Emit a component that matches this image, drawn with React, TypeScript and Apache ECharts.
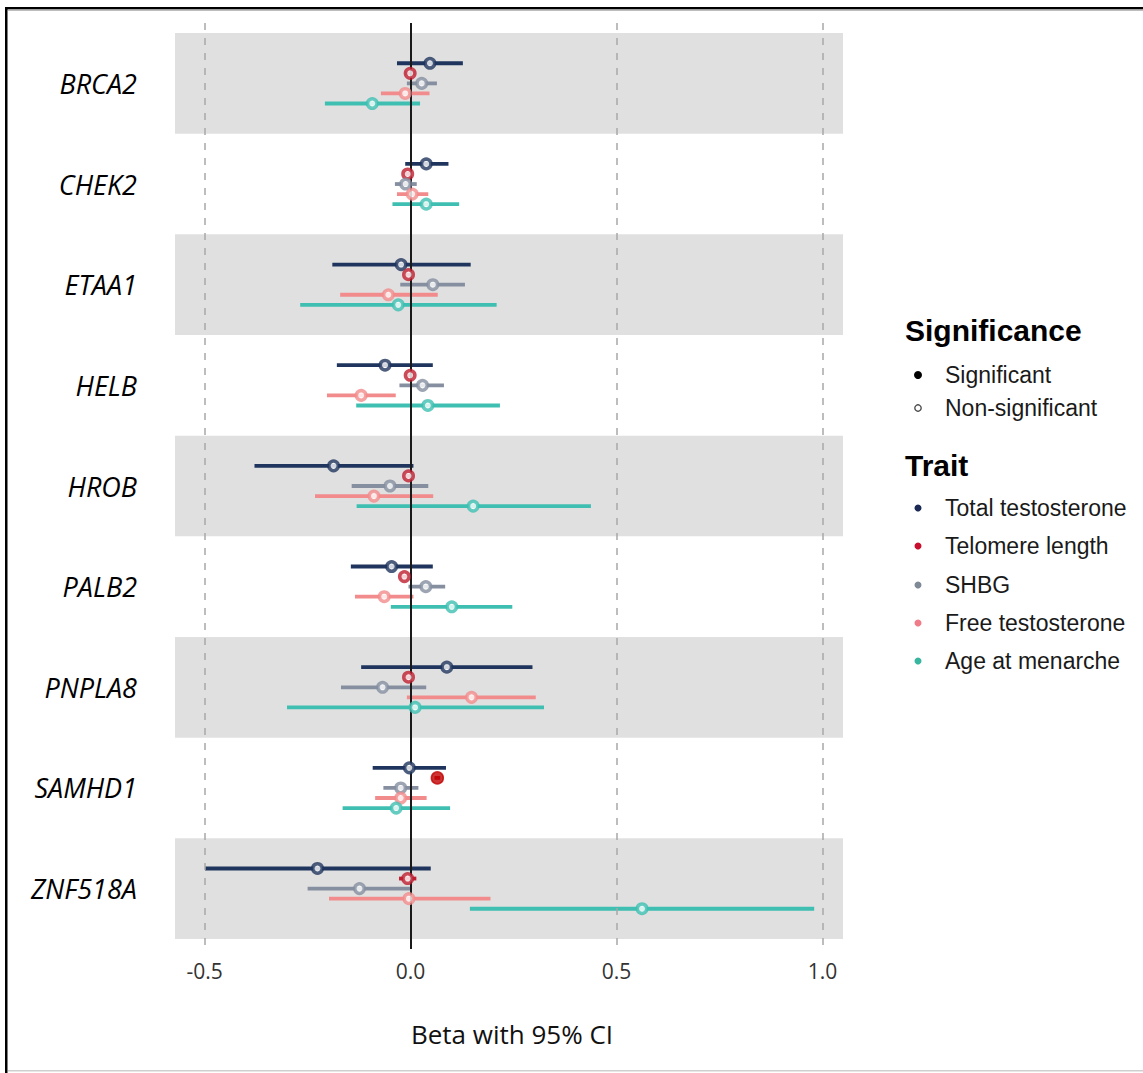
import React, { useEffect, useRef } from "react";
import * as echarts from "echarts";

const genes = ["BRCA2", "CHEK2", "ETAA1", "HELB", "HROB", "PALB2", "PNPLA8", "SAMHD1", "ZNF518A"];
const traitNames = ["Total testosterone", "Telomere length", "SHBG", "Free testosterone", "Age at menarche"];
const traitColors = ["#1f355e", "#be1e2f", "#858fa0", "#f28b8c", "#3fbfb2"];
const legendDotColors = ["#1b2a55", "#c8102e", "#808a96", "#f07c8a", "#38b6a0"];
const traitOffsets = [-0.2, -0.1, 0, 0.1, 0.2];
const xTicks = [-0.5, 0, 0.5, 1.0];

const totalTestosteroneBeta = [0.047, 0.038, -0.023, -0.062, -0.187, -0.046, 0.088, -0.003, -0.226];
const totalTestosteroneLower = [-0.033, -0.013, -0.19, -0.179, -0.379, -0.145, -0.12, -0.092, -0.499];
const totalTestosteroneUpper = [0.127, 0.092, 0.146, 0.054, 0.007, 0.054, 0.296, 0.086, 0.049];
const totalTestosteroneSig = [false, false, false, false, false, false, false, false, false];

const telomereBeta = [-0.001, -0.007, -0.005, -0.001, -0.005, -0.015, -0.005, 0.065, -0.007];
const telomereLower = [-0.012, -0.016, -0.014, -0.01, -0.014, -0.024, -0.014, 0.058, -0.028];
const telomereUpper = [0.01, 0.002, 0.004, 0.008, 0.004, -0.006, 0.004, 0.072, 0.014];
const telomereSig = [false, false, false, false, false, false, false, true, false];

const shbgBeta = [0.027, -0.012, 0.054, 0.029, -0.05, 0.037, -0.068, -0.024, -0.124];
const shbgLower = [-0.009, -0.038, -0.025, -0.027, -0.143, -0.005, -0.169, -0.066, -0.25];
const shbgUpper = [0.064, 0.015, 0.132, 0.081, 0.043, 0.084, 0.038, 0.019, 0.003];
const shbgSig = [false, false, false, false, false, false, false, false, false];

const freeTestosteroneBeta = [-0.013, 0.004, -0.054, -0.12, -0.089, -0.064, 0.148, -0.024, -0.004];
const freeTestosteroneLower = [-0.072, -0.033, -0.171, -0.203, -0.232, -0.135, -0.009, -0.086, -0.198];
const freeTestosteroneUpper = [0.046, 0.043, 0.066, -0.036, 0.055, 0.007, 0.304, 0.039, 0.194];
const freeTestosteroneSig = [false, false, false, false, false, false, false, false, false];

const ageAtMenarcheBeta = [-0.093, 0.038, -0.03, 0.042, 0.152, 0.1, 0.011, -0.035, 0.562];
const ageAtMenarcheLower = [-0.208, -0.044, -0.268, -0.132, -0.131, -0.048, -0.3, -0.165, 0.144];
const ageAtMenarcheUpper = [0.023, 0.118, 0.209, 0.217, 0.438, 0.247, 0.324, 0.096, 0.98];
const ageAtMenarcheSig = [false, false, false, false, false, false, false, false, false];

const betas = [totalTestosteroneBeta, telomereBeta, shbgBeta, freeTestosteroneBeta, ageAtMenarcheBeta];
const lowers = [totalTestosteroneLower, telomereLower, shbgLower, freeTestosteroneLower, ageAtMenarcheLower];
const uppers = [totalTestosteroneUpper, telomereUpper, shbgUpper, freeTestosteroneUpper, ageAtMenarcheUpper];
const sigs = [totalTestosteroneSig, telomereSig, shbgSig, freeTestosteroneSig, ageAtMenarcheSig];

const LEGEND_FONT = "'Liberation Sans', Arial, sans-serif";
const AXIS_FONT = "'Open Sans', 'Noto Sans', sans-serif";

export default function App() {
  const ref = useRef<HTMLDivElement>(null);

  useEffect(() => {
    document.body.style.margin = "0";
    if (!ref.current) return;
    const chart = echarts.init(ref.current, undefined, { renderer: "svg" });

    const series: any[] = [];

    // background bands
    series.push({
      type: "line",
      data: [],
      z: 1,
      silent: true,
      markArea: {
        silent: true,
        itemStyle: { color: "#e0e0e0" },
        data: genes
          .map((g, i) => i)
          .filter((i) => i % 2 === 0)
          .map((i) => [{ yAxis: i - 0.5 }, { yAxis: i + 0.5 }]),
      },
    });

    // dashed grid lines
    series.push({
      type: "line",
      data: [],
      z: 2,
      silent: true,
      markLine: {
        silent: true,
        symbol: "none",
        label: { show: false },
        lineStyle: { color: "#a8a8a8", type: [7, 8], width: 1.5 },
        data: xTicks.filter((t) => t !== 0).map((t) => ({ xAxis: t })),
      },
    });

    // error bars
    traitNames.forEach((name, t) => {
      series.push({
        type: "custom",
        name: name + " CI",
        z: 3,
        silent: true,
        encode: { x: [0, 1], y: 2 },
        data: genes.map((g, i) => [lowers[t][i], uppers[t][i], i + traitOffsets[t]]),
        renderItem: (params: any, api: any) => {
          const p1 = api.coord([api.value(0), api.value(2)]);
          const p2 = api.coord([api.value(1), api.value(2)]);
          return {
            type: "line",
            shape: { x1: p1[0], y1: p1[1], x2: p2[0], y2: p2[1] },
            style: { stroke: traitColors[t], lineWidth: 3.8 },
          };
        },
      });
    });

    // zero line
    series.push({
      type: "line",
      data: [],
      z: 4,
      silent: true,
      markLine: {
        silent: true,
        symbol: "none",
        label: { show: false },
        lineStyle: { color: "#1a1a1a", type: "solid", width: 2 },
        data: [{ xAxis: 0 }],
      },
    });

    // points
    traitNames.forEach((name, t) => {
      series.push({
        type: "scatter",
        name,
        z: 5,
        data: genes.map((g, i) => {
          const sig = sigs[t][i];
          return {
            value: [betas[t][i], i + traitOffsets[t]],
            symbolSize: sig ? 12 : 9.5,
            itemStyle: sig
              ? { color: "#c00000", borderColor: "#c00000", borderWidth: 1.5 }
              : { color: "#ffffff", borderColor: traitColors[t], borderWidth: 3.5 },
          };
        }),
      });
    });

    const legendX = 905;
    const dotX = 918;
    const textX = 945;
    const itemFont = `23px ${LEGEND_FONT}`;
    const titleFont = `bold 30px ${LEGEND_FONT}`;
    const graphic: any[] = [
      // frame
      { type: "rect", shape: { x: 5, y: 7, width: 2.5, height: 1066 }, style: { fill: "#000" }, silent: true },
      { type: "rect", shape: { x: 5, y: 7, width: 1138, height: 2.5 }, style: { fill: "#000" }, silent: true },
      { type: "rect", shape: { x: 8, y: 9.5, width: 1135, height: 1.5 }, style: { fill: "#bdbdbd" }, silent: true },
      { type: "rect", shape: { x: 8, y: 1070, width: 1135, height: 1.5 }, style: { fill: "#cfcfcf" }, silent: true },
      {
        type: "text",
        x: legendX,
        y: 330,
        style: { text: "Significance", font: titleFont, fill: "#000", verticalAlign: "middle" },
      },
      { type: "circle", shape: { cx: dotX, cy: 375, r: 4 }, style: { fill: "#000" } },
      {
        type: "text",
        x: textX,
        y: 375,
        style: { text: "Significant", font: itemFont, fill: "#1a1a1a", verticalAlign: "middle" },
      },
      { type: "circle", shape: { cx: dotX, cy: 408, r: 3.2 }, style: { fill: "#fff", stroke: "#444", lineWidth: 1.3 } },
      {
        type: "text",
        x: textX,
        y: 408,
        style: { text: "Non-significant", font: itemFont, fill: "#1a1a1a", verticalAlign: "middle" },
      },
      {
        type: "text",
        x: legendX,
        y: 465,
        style: { text: "Trait", font: titleFont, fill: "#000", verticalAlign: "middle" },
      },
    ];
    const traitLegendY = [508, 546, 585, 623, 661];
    traitNames.forEach((name, t) => {
      graphic.push({ type: "circle", shape: { cx: dotX, cy: traitLegendY[t], r: 3.5 }, style: { fill: legendDotColors[t] } });
      graphic.push({
        type: "text",
        x: textX,
        y: traitLegendY[t],
        style: { text: name, font: itemFont, fill: "#1a1a1a", verticalAlign: "middle" },
      });
    });

    chart.setOption({
      animation: false,
      grid: { left: 175, right: 300, top: 23, bottom: 124, containLabel: false },
      xAxis: {
        type: "value",
        min: -0.572,
        max: 1.05,
        name: "Beta with 95% CI",
        nameLocation: "middle",
        nameGap: 72,
        nameTextStyle: { fontFamily: AXIS_FONT, fontSize: 26, color: "#111", padding: [0, 0, 0, 6] },
        axisLine: { show: false },
        axisTick: { show: false },
        splitLine: { show: false },
        axisLabel: {
          customValues: xTicks,
          formatter: (v: number) => v.toFixed(1),
          fontFamily: AXIS_FONT,
          fontSize: 21,
          color: "#333",
          margin: 11,
        },
      },
      yAxis: {
        type: "value",
        inverse: true,
        min: -0.6,
        max: 8.6,
        axisLine: { show: false },
        axisTick: { show: false },
        splitLine: { show: false },
        axisLabel: {
          customValues: genes.map((g, i) => i),
          formatter: (v: number) => genes[Math.round(v)] ?? "",
          fontFamily: AXIS_FONT,
          fontStyle: "italic",
          fontSize: 27,
          color: "#000",
          margin: 38,
          padding: [8, 0, 0, 0],
        },
      },
      graphic,
      series,
    });

    return () => chart.dispose();
  }, []);

  return <div ref={ref} style={{ width: 1143, height: 1073 }} />;
}
